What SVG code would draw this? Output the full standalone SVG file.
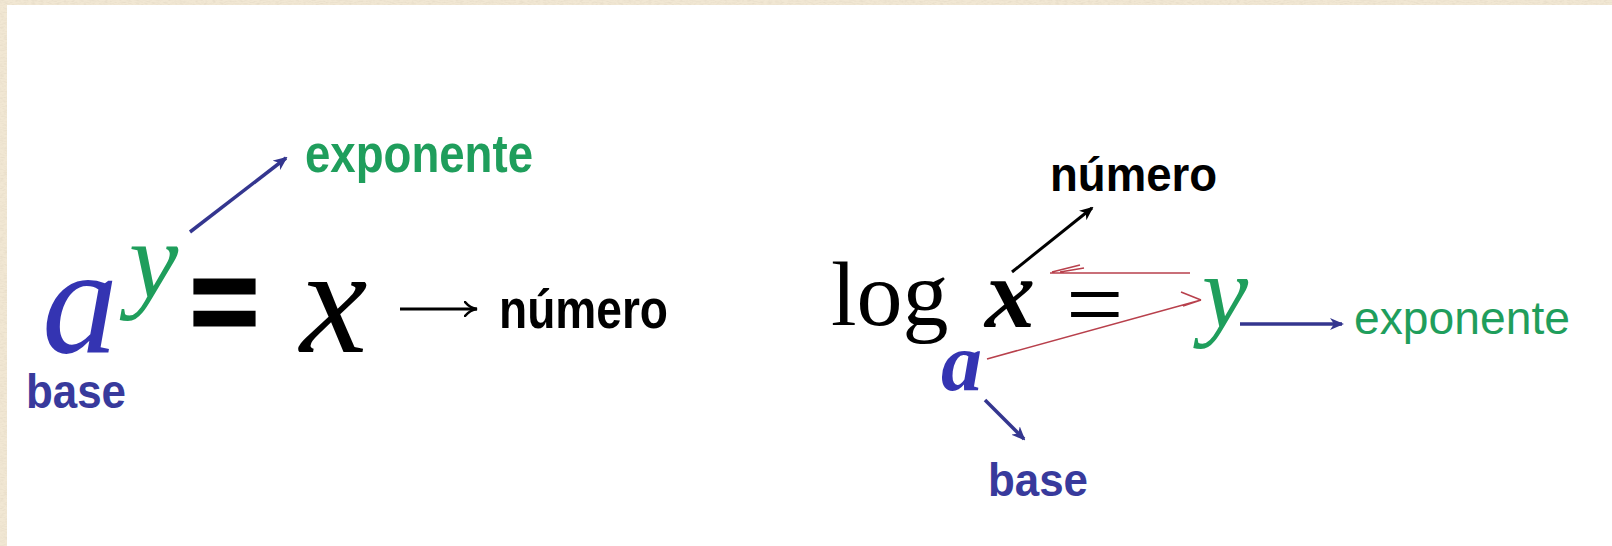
<svg xmlns="http://www.w3.org/2000/svg" width="1612" height="546" viewBox="0 0 1612 546">
  <style>
    .serifI { font-family: "Liberation Serif", "Times New Roman", serif; font-style: italic; }
    .serifBI { font-family: "Liberation Serif", "Times New Roman", serif; font-style: italic; font-weight: bold; }
    .serif { font-family: "Liberation Serif", "Times New Roman", serif; }
    .sansB { font-family: "Liberation Sans", Arial, sans-serif; font-weight: bold; }
    .sans { font-family: "Liberation Sans", Arial, sans-serif; }
    .blue { fill: #3434b2; }
    .navy { fill: #383a9c; }
    .green { fill: #1f9e5c; }
    .black { fill: #000000; }
    .arrowBlue { stroke: #34368f; stroke-width: 3.5; fill: none; }
    .arrowBlack { stroke: #000000; stroke-width: 3; fill: none; }
    .red { stroke: #b8404c; stroke-width: 1.6; fill: none; }
  </style>
  <defs>
    <filter id="paper" x="0" y="0" width="100%" height="100%">
      <feTurbulence type="fractalNoise" baseFrequency="0.25 0.8" numOctaves="3" seed="4"/>
      <feColorMatrix type="matrix" values="0 0 0 0 0.80  0 0 0 0 0.72  0 0 0 0 0.58  0 0 0 -2 1.2"/>
    </filter>
    <marker id="headBlue" viewBox="0 0 14 12" refX="12" refY="6" markerWidth="14" markerHeight="12" markerUnits="userSpaceOnUse" orient="auto">
      <path d="M0,0 L14,6 L0,12 L4,6 z" fill="#34368f"/>
    </marker>
    <marker id="headBlack" viewBox="0 0 14 12" refX="12" refY="6" markerWidth="14" markerHeight="12" markerUnits="userSpaceOnUse" orient="auto">
      <path d="M0,0 L14,6 L0,12 L4,6 z" fill="#000000"/>
    </marker>
    <marker id="headLong" viewBox="0 0 14 16" refX="13" refY="8" markerWidth="14" markerHeight="16" markerUnits="userSpaceOnUse" orient="auto">
      <path d="M1,1 Q6,7 13,8 Q6,9 1,15" fill="none" stroke="#000" stroke-width="2.6" stroke-linecap="round"/>
    </marker>
  </defs>

  <!-- paper border -->
  <rect x="0" y="0" width="1612" height="546" fill="#f1e7d3"/>
  <rect x="0" y="0" width="1612" height="546" filter="url(#paper)"/>
  <rect x="7" y="5" width="1605" height="541" fill="#ffffff"/>

  <!-- left formula -->
  <g id="left-a"><text class="serifI blue" x="42" y="352" font-size="152">a</text></g>
  <g id="left-y"><text class="serifI green" x="129" y="298" font-size="111">y</text></g>
  <g id="left-eq"><text class="sansB black" x="190" y="342" font-size="118" stroke="#000" stroke-width="3">=</text></g>
  <g id="left-x"><text class="serifI black" x="300" y="352" font-size="152">x</text></g>
  <g id="left-exponente"><text class="sansB green" x="305" y="172" font-size="54" textLength="228" lengthAdjust="spacingAndGlyphs">exponente</text></g>
  <g id="left-numero"><text class="sansB black" x="499" y="328" font-size="56" textLength="169" lengthAdjust="spacingAndGlyphs">número</text></g>
  <g id="left-base"><text class="sansB navy" x="26" y="408" font-size="48" textLength="100" lengthAdjust="spacingAndGlyphs">base</text></g>

  <!-- right formula -->
  <g id="right-log"><text class="serif black" x="831" y="325" font-size="92">log</text></g>
  <g id="right-x"><text class="serifBI black" x="985" y="327" font-size="100">x</text></g>
  <g id="right-eq"><text class="serif black" x="1066" y="338" font-size="102">=</text></g>
  <g id="right-y"><text class="serifI green" x="1202" y="327" font-size="104">y</text></g>
  <g id="right-a"><text class="serifBI blue" x="941" y="390" font-size="82">a</text></g>
  <g id="right-numero"><text class="sansB black" x="1050" y="191" font-size="48" textLength="167" lengthAdjust="spacingAndGlyphs">número</text></g>
  <g id="right-exponente"><text class="sans green" x="1354" y="334" font-size="46" textLength="216" lengthAdjust="spacingAndGlyphs">exponente</text></g>
  <g id="right-base"><text class="sansB navy" x="988" y="496" font-size="46" textLength="100" lengthAdjust="spacingAndGlyphs">base</text></g>

  <!-- connectors -->
  <g id="connectors">
    <line class="arrowBlue" x1="190" y1="232" x2="286" y2="158" marker-end="url(#headBlue)"/>
    <line class="arrowBlack" x1="400" y1="309" x2="477" y2="309" marker-end="url(#headLong)"/>
    <line class="arrowBlack" x1="1012" y1="272" x2="1092" y2="208" marker-end="url(#headBlack)"/>
    <line class="arrowBlue" x1="1240" y1="324" x2="1342" y2="324" stroke-width="4" marker-end="url(#headBlue)"/>
    <line class="arrowBlue" x1="985" y1="400" x2="1024" y2="439" marker-end="url(#headBlue)"/>
    <path class="red" d="M1190,273 L1050,273 M1052,272 L1080,265 M1060,272 L1084,268"/>
    <path class="red" d="M987,359 L1201,300 M1201,300 L1181,292 M1201,300 L1183,306"/>
  </g>
</svg>
